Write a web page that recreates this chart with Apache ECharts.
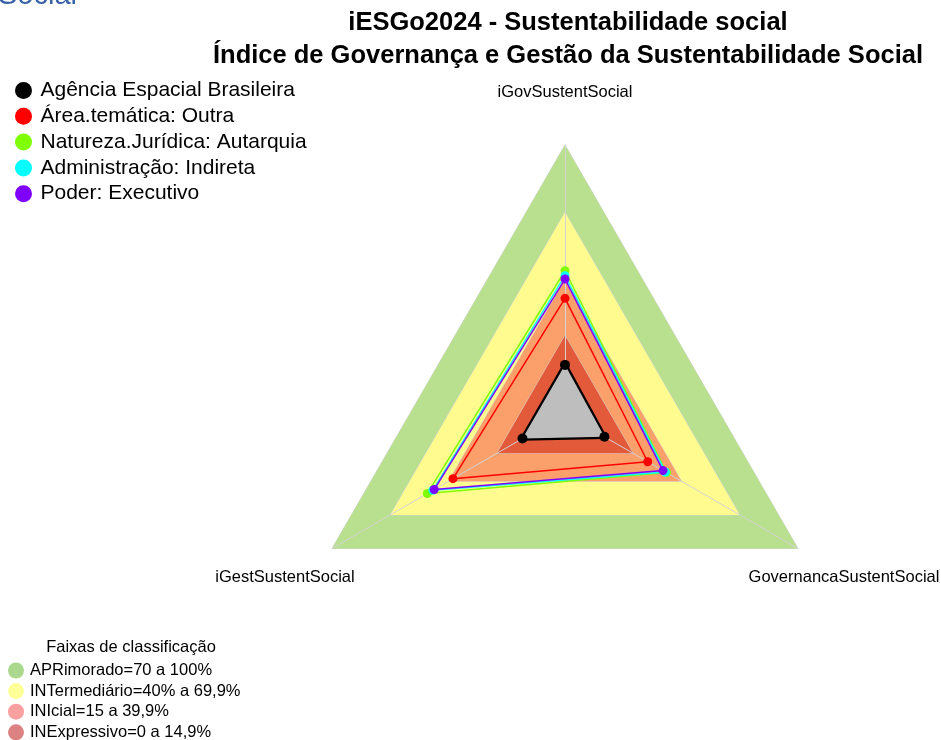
<!DOCTYPE html>
<html>
<head>
<meta charset="utf-8">
<title>iESGo2024 - Sustentabilidade social</title>
<script src="https://cdn.jsdelivr.net/npm/echarts@6/dist/echarts.min.js"></script>
<style>
  html, body { margin: 0; padding: 0; background: #fff; }
  #main { width: 941px; height: 740px; }
</style>
</head>
<body>
<div id="main"></div>
<script>
// eixos do radar (ordem anti-horaria a partir do topo)
const indicadores = ['iGovSustentSocial', 'iGestSustentSocial', 'GovernancaSustentSocial'];

// grupos comparados
const grupos = [
  'Agência Espacial Brasileira',
  'Área.temática: Outra',
  'Natureza.Jurídica: Autarquia',
  'Administração: Indireta',
  'Poder: Executivo'
];
const agencia = [1.9, 1.9, 0.3];
const areaTematica = [31.6, 37.7, 22.6];
const naturezaJuridica = [43.9, 50.9, 32.3];
const administracao = [41.7, 48.1, 31.7];
const poder = [40.2, 47.4, 30.5];
const valores = [agencia, areaTematica, naturezaJuridica, administracao, poder];
const coresGrupos = ['#000000', '#ff0000', '#80ff00', '#00ffff', '#8000ff'];

// faixas de classificacao
const faixas = [
  'APRimorado=70 a 100%',
  'INTermediário=40% a 69,9%',
  'INIcial=15 a 39,9%',
  'INExpressivo=0 a 14,9%'
];
const limitesFaixas = [100, 70, 40, 15];
const coresFaixas = ['#b9e08f', '#fffb8f', '#fba06a', '#e25a3a'];
const coresLegendaFaixas = ['#aad88c', '#ffff99', '#f9a0a0', '#dc8282'];

const fonte = 'Liberation Sans, Arial, sans-serif';
const chart = echarts.init(document.getElementById('main'));

chart.setOption({
  backgroundColor: '#ffffff',
  animation: false,
  title: [
    {
      text: 'iESGo2024 - Sustentabilidade social\nÍndice de Governança e Gestão da Sustentabilidade Social',
      left: 563, top: 1, textAlign: 'center',
      textStyle: { fontFamily: fonte, fontSize: 25.5, fontWeight: 'bold', color: '#000', lineHeight: 33 }
    },
    {
      text: 'Faixas de classificação',
      left: 126, top: 634, textAlign: 'center',
      textStyle: { fontFamily: fonte, fontSize: 16.5, fontWeight: 'normal', color: '#000' }
    }
  ],
  legend: [
    {
      data: grupos,
      orient: 'vertical', left: 10, top: 75,
      icon: 'circle', itemWidth: 24, itemHeight: 17, itemGap: 4.8,
      itemStyle: { borderWidth: 0 },
      textStyle: { fontFamily: fonte, fontSize: 21, color: '#000' }
    },
    {
      data: faixas.map((f, i) => ({ name: f, itemStyle: { color: coresLegendaFaixas[i], borderWidth: 0 } })),
      orient: 'vertical', left: 8, top: 662, height: 140, padding: 0,
      icon: 'circle', itemWidth: 18, itemHeight: 16, itemGap: 3.6,
      textStyle: { fontFamily: fonte, fontSize: 16.5, color: '#000' }
    }
  ],
  radar: {
    center: [565, 414],
    radius: 269,
    startAngle: 90,
    shape: 'polygon',
    splitNumber: 1,
    indicator: indicadores.map(n => ({ name: n, min: -20, max: 100 })),
    axisName: { show: false },
    axisLine: { lineStyle: { color: '#d3d3d3', width: 1 } },
    splitLine: { show: false },
    splitArea: { show: false }
  },
  series: [
    {
      // faixas de fundo
      type: 'radar',
      z: -1,
      symbol: 'none',
      silent: true,
      data: faixas.map((f, i) => ({
        name: f,
        value: indicadores.map(() => limitesFaixas[i]),
        itemStyle: { color: coresFaixas[i] },
        lineStyle: { color: '#d3d3d3', width: 1 },
        areaStyle: { color: coresFaixas[i], opacity: 1 }
      }))
    },
    {
      type: 'radar',
      z: 3,
      symbol: 'circle',
      data: grupos.map((g, i) => {
        const item = {
          name: g,
          value: valores[i],
          symbolSize: 9,
          itemStyle: { color: coresGrupos[i] },
          lineStyle: { color: coresGrupos[i], width: 1.5 }
        };
        if (i === 0) {
          item.symbolSize = 10;
          item.lineStyle.width = 4.5;
          item.areaStyle = { color: '#bebebe', opacity: 1 };
        }
        return item;
      })
    }
  ],
  graphic: [
    {
      type: 'text', left: -2, top: -19,
      style: { text: 'Social', font: '29px ' + fonte, fill: '#3a62a8' }
    },
    {
      type: 'text', x: 565, y: 92,
      style: { text: indicadores[0], font: '16.5px ' + fonte, fill: '#000', align: 'center', verticalAlign: 'middle' }
    },
    {
      type: 'text', x: 285, y: 577,
      style: { text: indicadores[1], font: '16.5px ' + fonte, fill: '#000', align: 'center', verticalAlign: 'middle' }
    },
    {
      type: 'text', x: 844, y: 577,
      style: { text: indicadores[2], font: '16.5px ' + fonte, fill: '#000', align: 'center', verticalAlign: 'middle' }
    }
  ]
});
</script>
</body>
</html>
